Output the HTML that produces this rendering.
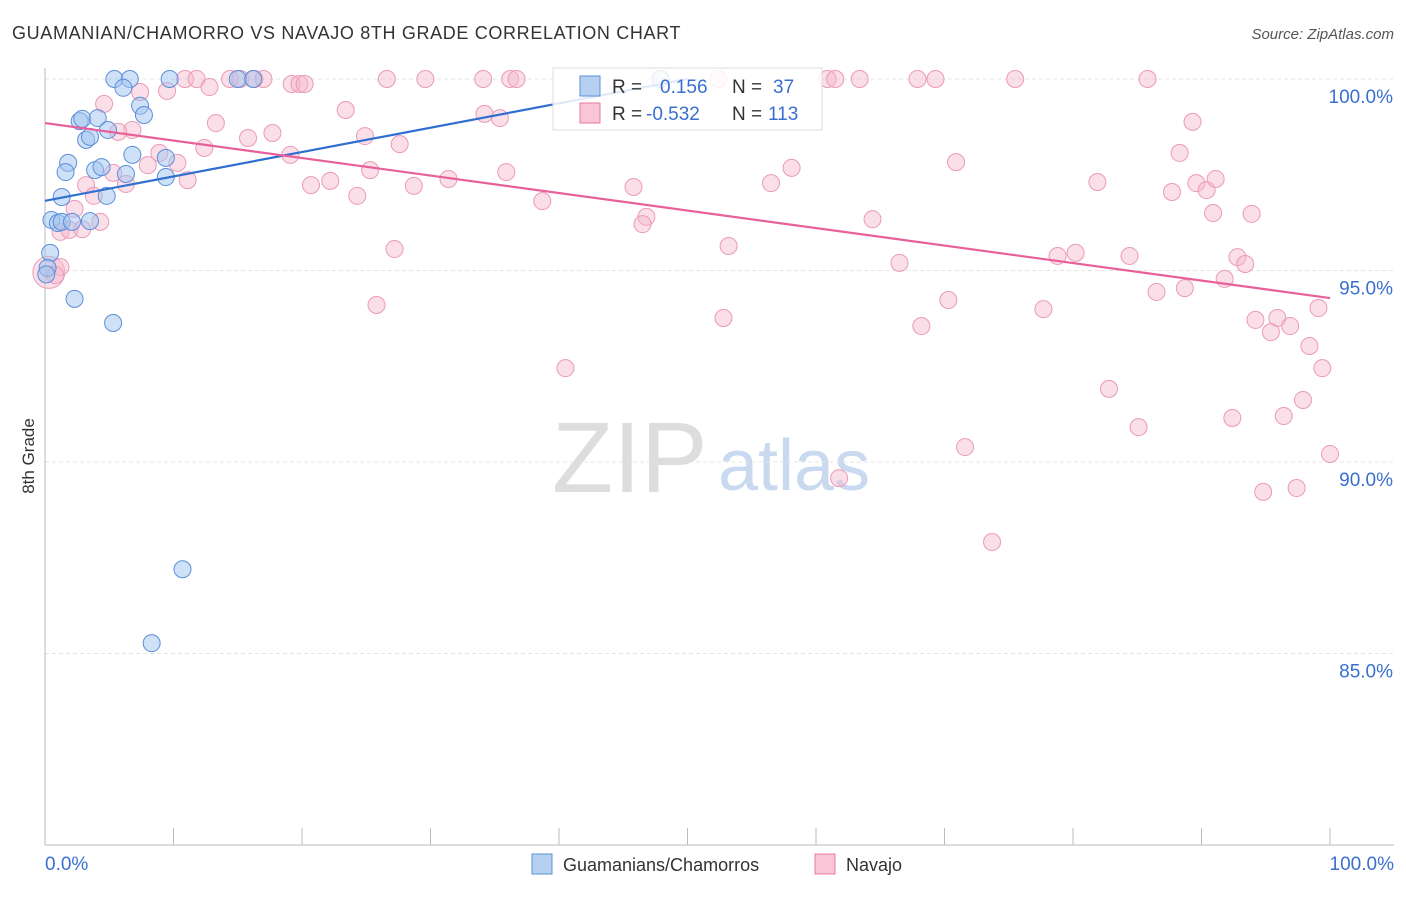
<!DOCTYPE html>
<html><head><meta charset="utf-8"><style>
body{margin:0;background:#fff;font-family:"Liberation Sans",sans-serif;}
svg text{font-family:"Liberation Sans",sans-serif;}
</style></head><body>
<svg id="chart" width="1406" height="892">
<text x="12" y="39" font-size="18" fill="#333" letter-spacing="0.65">GUAMANIAN/CHAMORRO VS NAVAJO 8TH GRADE CORRELATION CHART</text>
<text x="1394" y="39" font-size="15" fill="#555" font-style="italic" text-anchor="end">Source: ZipAtlas.com</text>
<text x="34" y="456" font-size="17" fill="#333" transform="rotate(-90 34 456)" text-anchor="middle">8th Grade</text>
<text x="552" y="492" font-size="100" fill="#ddd" font-family="Liberation Serif">ZIP</text>
<text x="718" y="490" font-size="72" fill="#c9daf0">atlas</text>
<g id="grid"></g><g id="pts"></g><g id="lines"></g>
<g>
<rect x="553" y="68" width="269" height="62" fill="rgba(255,255,255,0.85)" stroke="#ddd"/>
<rect x="580" y="76" width="20" height="20" fill="#b6d0f2" stroke="#5b8fd8"/>
<rect x="580" y="103" width="20" height="20" fill="#f8c6d6" stroke="#e8799e"/>
<text x="612" y="93" font-size="19" fill="#333">R = </text><text x="660" y="93" font-size="19" fill="#3a6fd0">0.156</text>
<text x="732" y="93" font-size="19" fill="#333">N = </text><text x="773" y="93" font-size="19" fill="#3a6fd0">37</text>
<text x="612" y="120" font-size="19" fill="#333">R = </text><text x="646" y="120" font-size="19" fill="#3a6fd0">-0.532</text>
<text x="732" y="120" font-size="19" fill="#333">N = </text><text x="768" y="120" font-size="19" fill="#3a6fd0">113</text>
</g>
<g>
<rect x="532" y="854" width="20" height="20" fill="#b6d0f2" stroke="#5b8fd8"/>
<text x="563" y="871" font-size="18" fill="#333">Guamanians/Chamorros</text>
<rect x="815" y="854" width="20" height="20" fill="#f8c6d6" stroke="#e8799e"/>
<text x="846" y="871" font-size="18" fill="#333">Navajo</text>
</g>
</svg>
<script>
const yTicks=[100,95,90,85];
const xTickLabels=["0.0%","100.0%"];
const blueX=[5.4,6.6,9.7,15.0,16.2,47.9,6.1,7.4,7.7,2.7,2.9,4.1,4.9,3.2,3.5,6.8,1.8,9.4,3.9,4.4,1.6,6.3,9.4,1.3,4.8,0.5,1.0,1.3,3.5,2.1,0.4,0.2,2.3,5.3,10.7,8.3,0.1];
const blueY=[100,100,100,100,100,100,99.77,99.3,99.06,98.9,98.96,98.98,98.67,98.41,98.49,98.02,97.81,97.94,97.62,97.7,97.57,97.52,97.44,96.92,96.95,96.32,96.24,96.27,96.29,96.27,95.46,95.07,94.26,93.63,87.2,85.27,94.9];
const pinkX=[10.9,11.8,14.4,15.2,16.3,17.0,19.2,19.8,20.2,26.6,29.6,34.1,36.2,36.7,52.4,60.9,61.5,63.4,67.9,69.3,75.5,85.8,9.5,12.8,7.4,4.6,23.4,34.2,35.4,13.3,6.8,5.7,17.7,15.8,24.9,12.4,27.6,19.1,8.9,10.3,8.0,5.3,11.1,6.3,3.2,22.2,20.7,25.3,31.4,35.9,28.7,24.3,38.7,45.8,58.1,56.5,70.9,81.9,88.3,89.3,87.7,89.6,90.4,91.1,90.9,93.9,3.8,2.3,1.2,1.9,2.9,4.3,46.8,46.5,64.4,53.2,27.2,66.5,78.8,80.2,84.4,92.8,93.4,1.2,91.8,86.5,88.7,25.8,70.3,77.7,52.8,68.2,99.1,95.9,94.2,95.4,96.9,98.4,40.5,99.4,82.8,97.9,85.1,92.4,96.4,71.6,61.8,100,94.8,97.4,73.7,0.8];
const pinkY=[100,100,100,100,100,100,99.87,99.87,99.87,100,100,100,100,100,100,100,100,100,100,100,100,100,99.69,99.79,99.66,99.35,99.19,99.09,98.98,98.85,98.67,98.62,98.59,98.46,98.51,98.2,98.3,98.02,98.07,97.81,97.75,97.55,97.36,97.26,97.23,97.34,97.23,97.62,97.39,97.57,97.21,96.95,96.81,97.18,97.68,97.28,97.83,97.31,98.07,98.88,97.05,97.28,97.1,97.39,96.5,96.48,96.95,96.61,96.01,96.06,96.08,96.27,96.4,96.21,96.34,95.64,95.56,95.2,95.38,95.46,95.38,95.35,95.17,95.09,94.78,94.44,94.54,94.1,94.23,93.99,93.76,93.55,94.02,93.76,93.71,93.39,93.55,93.03,92.45,92.45,91.91,91.62,90.91,91.15,91.2,90.39,89.58,90.21,89.22,89.32,87.91,94.88];
const blueLine=[[0,96.82],[50,100]];
const pinkLine=[[0,98.85],[100,94.28]];
const NS="http://www.w3.org/2000/svg";
const X=v=>45+v*12.85, Y=v=>79+(100-v)*38.3;
function mk(tag,attrs,parent){const e=document.createElementNS(NS,tag);for(const k in attrs)e.setAttribute(k,attrs[k]);parent.appendChild(e);return e;}
const grid=document.getElementById('grid');
yTicks.forEach(t=>{
 const l=mk('line',{x1:45,x2:1394,y1:Y(t),y2:Y(t),stroke:'#e4e4e4','stroke-dasharray':'4,3'},grid);
 
 
 const tx=mk('text',{x:1393,y:Y(t)+24,'font-size':19,fill:'#3a6fd0','text-anchor':'end'},grid);tx.textContent=t.toFixed(1)+'%';
 
 
});
mk('line',{x1:45,x2:45,y1:68,y2:845,stroke:'#bbb'},grid);
mk('line',{x1:45,x2:1394,y1:845,y2:845,stroke:'#bbb'},grid);
for(let i=0;i<=10;i++){const l=mk('line',{x1:X(i*10),x2:X(i*10),y1:828,y2:845,stroke:'#bbb'},grid);
 
 }
[[0,'start',45],[1,'end',1394]].forEach(([i,a,x])=>{const t=mk('text',{x:x,y:870,'font-size':19,fill:'#3a6fd0','text-anchor':a},grid);t.textContent=xTickLabels[i];
 
 });
const pts=document.getElementById('pts');
const big=mk('circle',{cx:X(0.3),cy:Y(94.95),r:16,fill:'rgba(244,184,204,0.45)',stroke:'#e8a0b8'},pts);


pinkX.forEach((x,i)=>{const c=mk('circle',{cx:X(x),cy:Y(pinkY[i]),r:8.5,fill:'rgba(244,184,204,0.45)',stroke:'#eb9ab6','stroke-width':1},pts);
 
 });
blueX.forEach((x,i)=>{const c=mk('circle',{cx:X(x),cy:Y(blueY[i]),r:8.5,fill:'rgba(160,196,240,0.5)',stroke:'#5b8fd8','stroke-width':1},pts);
 
 });
const lines=document.getElementById('lines');
const bl=mk('line',{x1:X(blueLine[0][0]),y1:Y(blueLine[0][1]),x2:X(blueLine[1][0]),y2:Y(blueLine[1][1]),stroke:'#2f6fd0','stroke-width':2.2},lines);


const pl=mk('line',{x1:X(pinkLine[0][0]),y1:Y(pinkLine[0][1]),x2:X(pinkLine[1][0]),y2:Y(pinkLine[1][1]),stroke:'#e8609a','stroke-width':2.2},lines);


</script>
</body></html>
